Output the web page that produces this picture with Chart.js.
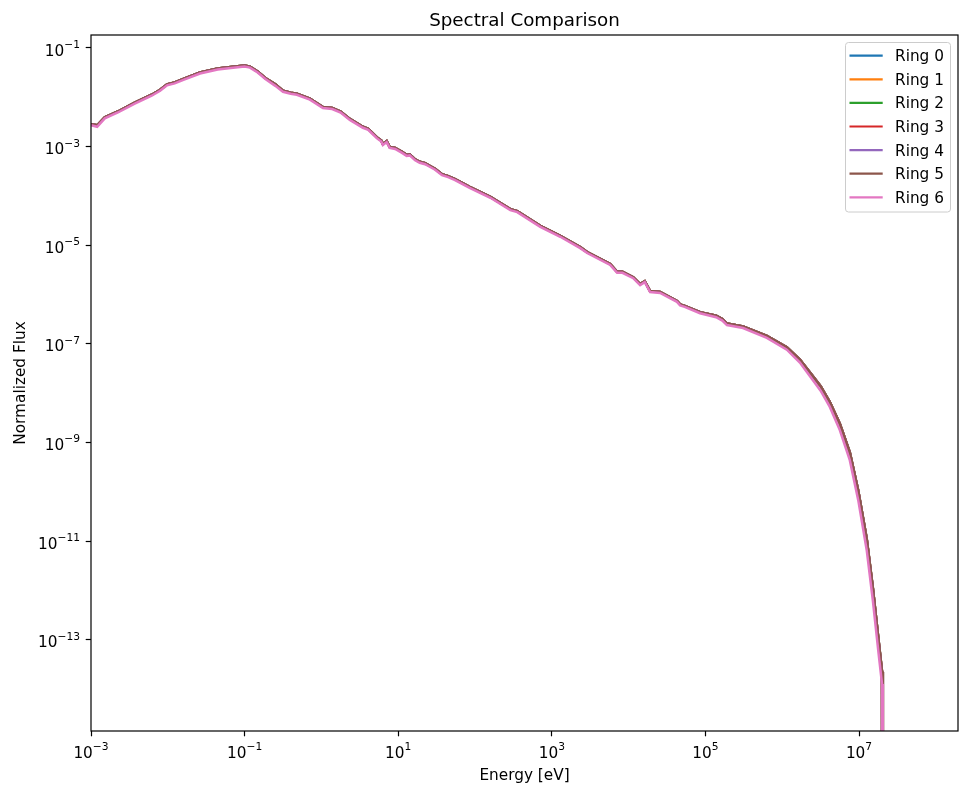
<!DOCTYPE html>
<html>
<head>
<meta charset="utf-8">
<script src="https://cdn.jsdelivr.net/npm/chart.js@4"></script>
<style>
  html, body { margin: 0; padding: 0; background: #fff; }
  #wrap { width: 959px; height: 794px; }
</style>
</head>
<body>
<div id="wrap"><canvas id="spectrum"></canvas></div>
<script>
// energy grid as log10(E / eV)
const energyExp = [
  -3.00, -2.99, -2.92, -2.82, -2.65, -2.43, -2.21, -2.10, -2.01, -1.91,
  -1.78, -1.58, -1.35, -1.12, -1.00, -0.93, -0.83, -0.73, -0.60, -0.50,
  -0.40, -0.32, -0.15, 0.02, 0.14, 0.25, 0.37, 0.54, 0.61, 0.72,
  0.78, 0.80, 0.85, 0.89, 0.96, 1.05, 1.11, 1.15, 1.22, 1.28,
  1.35, 1.41, 1.48, 1.57, 1.65, 1.74, 1.93, 2.20, 2.46, 2.55,
  2.85, 3.11, 3.37, 3.46, 3.76, 3.85, 3.92, 4.06, 4.15, 4.21,
  4.28, 4.41, 4.63, 4.67, 4.73, 4.93, 5.14, 5.22, 5.28, 5.49,
  5.80, 6.06, 6.23, 6.40, 6.50, 6.62, 6.75, 6.88, 6.99, 7.10,
  7.18, 7.25, 7.30, 7.31
];

// log10 of normalized flux, rings 0-5 (they sit almost on top of each other)
const innerExp = [
  -2.55, -2.55, -2.57, -2.41, -2.29, -2.11, -1.95, -1.85, -1.74, -1.70,
  -1.62, -1.50, -1.42, -1.38, -1.36, -1.38, -1.48, -1.61, -1.74, -1.87,
  -1.91, -1.93, -2.03, -2.20, -2.22, -2.29, -2.44, -2.60, -2.64, -2.81,
  -2.88, -2.95, -2.89, -3.01, -3.03, -3.11, -3.17, -3.16, -3.26, -3.31,
  -3.34, -3.39, -3.45, -3.56, -3.60, -3.66, -3.82, -4.02, -4.27, -4.31,
  -4.61, -4.81, -5.04, -5.14, -5.38, -5.54, -5.54, -5.65, -5.79, -5.73,
  -5.93, -5.95, -6.13, -6.20, -6.23, -6.36, -6.43, -6.50, -6.59, -6.65,
  -6.84, -7.07, -7.32, -7.66, -7.86, -8.18, -8.62, -9.20, -9.98, -10.95,
  -11.95, -12.95, -13.65, -40
];

// log10 of normalized flux, ring 6
const outerExp = [
  -2.57, -2.57, -2.60, -2.43, -2.31, -2.13, -1.97, -1.87, -1.76, -1.72,
  -1.64, -1.52, -1.44, -1.40, -1.38, -1.40, -1.50, -1.63, -1.77, -1.89,
  -1.93, -1.95, -2.05, -2.22, -2.24, -2.31, -2.46, -2.62, -2.66, -2.83,
  -2.90, -2.97, -2.91, -3.03, -3.05, -3.13, -3.19, -3.18, -3.28, -3.33,
  -3.36, -3.41, -3.47, -3.58, -3.62, -3.68, -3.84, -4.04, -4.29, -4.33,
  -4.63, -4.83, -5.06, -5.16, -5.40, -5.56, -5.56, -5.67, -5.81, -5.75,
  -5.95, -5.97, -6.15, -6.22, -6.25, -6.38, -6.46, -6.53, -6.62, -6.68,
  -6.88, -7.12, -7.38, -7.74, -7.95, -8.28, -8.75, -9.36, -10.17, -11.18,
  -12.20, -13.21, -13.90, -40
];

const ringNames = ['Ring 0', 'Ring 1', 'Ring 2', 'Ring 3', 'Ring 4', 'Ring 5', 'Ring 6'];
const ringColors = ['#1f77b4', '#ff7f0e', '#2ca02c', '#d62728', '#9467bd', '#8c564b', '#e377c2'];
const ringFlux = [innerExp, innerExp, innerExp, innerExp, innerExp, innerExp, outerExp];

const xTickExp = [-3, -1, 1, 3, 5, 7];
const yTickExp = [-1, -3, -5, -7, -9, -11, -13];

const FONT = '"DejaVu Sans", sans-serif';
const BASE_PX = 15.3;
const SUP_PX = 10.7;

// later rings are painted over earlier ones
const datasets = ringNames.map((name, i) => ({
  label: name,
  data: energyExp.map((e, k) => ({ x: Math.pow(10, e), y: Math.pow(10, ringFlux[i][k]) })),
  borderColor: ringColors[i],
  backgroundColor: ringColors[i],
  borderWidth: 2.5,
  pointRadius: 0,
  tension: 0,
  fill: false,
  order: ringNames.length - 1 - i
}));

// "10" followed by a raised exponent, like a mathtext label
function drawPower(ctx, exp, x, y, align) {
  const sup = exp < 0 ? '\u2212' + Math.abs(exp) : String(exp);
  ctx.font = BASE_PX + 'px ' + FONT;
  const bw = ctx.measureText('10').width;
  ctx.font = SUP_PX + 'px ' + FONT;
  const sw = ctx.measureText(sup).width;
  const left = align === 'center' ? x - (bw + sw) / 2 : x - bw - sw;
  ctx.textAlign = 'left';
  ctx.textBaseline = 'alphabetic';
  ctx.font = BASE_PX + 'px ' + FONT;
  ctx.fillText('10', left, y);
  ctx.font = SUP_PX + 'px ' + FONT;
  ctx.fillText(sup, left + bw, y - 7.7);
}

const decorations = {
  id: 'decorations',
  afterDatasetsDraw(chart) {
    const ctx = chart.ctx;
    const area = chart.chartArea;
    const xs = chart.scales.x;
    const ys = chart.scales.y;
    ctx.save();
    ctx.fillStyle = '#000';

    // frame on all four sides
    ctx.strokeStyle = '#000';
    ctx.lineWidth = 1.2;
    ctx.strokeRect(area.left, area.top, area.right - area.left, area.bottom - area.top);

    // tick labels
    xTickExp.forEach(e => drawPower(ctx, e, xs.getPixelForValue(Math.pow(10, e)), 757.7, 'center'));
    yTickExp.forEach(e => drawPower(ctx, e, 80, ys.getPixelForValue(Math.pow(10, e)) + 7.7, 'right'));

    // title and axis labels
    ctx.textAlign = 'center';
    ctx.textBaseline = 'alphabetic';
    ctx.font = '18.3px ' + FONT;
    ctx.fillText('Spectral Comparison', (area.left + area.right) / 2, 25.5);
    ctx.font = BASE_PX + 'px ' + FONT;
    ctx.fillText('Energy [eV]', (area.left + area.right) / 2, 780);
    ctx.save();
    ctx.translate(24.7, (area.top + area.bottom) / 2);
    ctx.rotate(-Math.PI / 2);
    ctx.fillText('Normalized Flux', 0, 0);
    ctx.restore();

    // legend box in the upper right corner
    const bx = 845.5, by = 42.5, bw = 105, bh = 169.5;
    ctx.beginPath();
    ctx.roundRect(bx, by, bw, bh, 3);
    ctx.fillStyle = 'rgba(255,255,255,0.8)';
    ctx.fill();
    ctx.strokeStyle = '#cccccc';
    ctx.lineWidth = 1;
    ctx.stroke();
    ctx.font = BASE_PX + 'px ' + FONT;
    ctx.textAlign = 'left';
    ringNames.forEach((name, i) => {
      const ry = 55.7 + i * 23.6;
      ctx.strokeStyle = ringColors[i];
      ctx.lineWidth = 2.2;
      ctx.beginPath();
      ctx.moveTo(849.5, ry);
      ctx.lineTo(882.7, ry);
      ctx.stroke();
      ctx.fillStyle = '#000';
      ctx.fillText(name, 895, ry + 5.5);
    });
    ctx.restore();
  }
};

new Chart(document.getElementById('spectrum'), {
  type: 'line',
  data: { datasets: datasets },
  options: {
    responsive: true,
    maintainAspectRatio: false,
    animation: false,
    devicePixelRatio: 1,
    layout: { padding: { top: 35, right: 1, left: 0, bottom: 0 } },
    plugins: {
      legend: { display: false },
      title: { display: false },
      tooltip: { enabled: false }
    },
    scales: {
      x: {
        type: 'logarithmic',
        min: 1e-3,
        max: 1.945e8,
        border: { display: false },
        grid: { display: true, drawOnChartArea: false, drawTicks: true, tickLength: 5.3, tickWidth: 1.2, tickColor: '#000' },
        ticks: { display: false },
        afterBuildTicks: s => { s.ticks = xTickExp.map(e => ({ value: Math.pow(10, e) })); },
        afterFit: s => { s.height = 63; }
      },
      y: {
        type: 'logarithmic',
        min: 1.41e-15,
        max: 0.1824,
        border: { display: false },
        grid: { display: true, drawOnChartArea: false, drawTicks: true, tickLength: 5.3, tickWidth: 1.2, tickColor: '#000' },
        ticks: { display: false },
        afterBuildTicks: s => { s.ticks = yTickExp.map(e => ({ value: Math.pow(10, e) })); },
        afterFit: s => { s.width = 91; }
      }
    }
  },
  plugins: [decorations]
});
</script>
</body>
</html>
